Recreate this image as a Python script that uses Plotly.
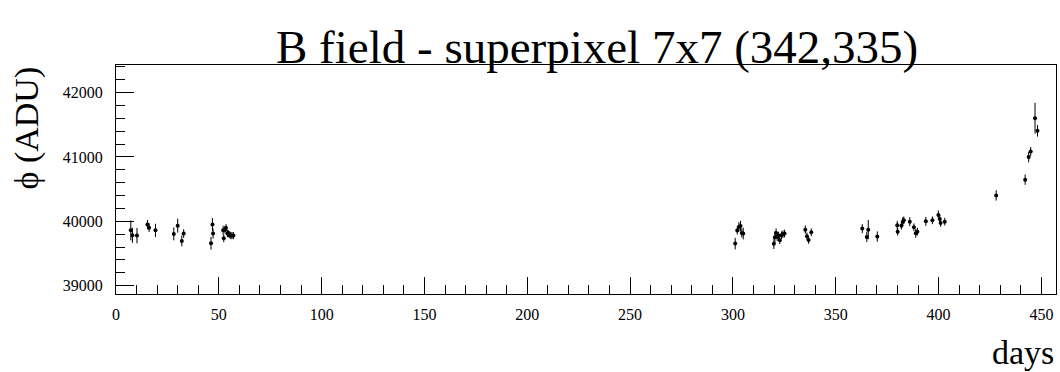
import plotly.graph_objects as go

title_text = "B field - superpixel 7x7 (342,335)"
x_title = "days"
y_title = "ϕ (ADU)"

days = [7.2, 8.0, 10.2, 15.3, 16.1, 19.2, 28.1, 30.0, 32.0, 32.9, 46.2, 46.9, 47.2,
        52.1, 52.4, 53.0, 53.5, 54.2, 54.7, 55.3, 55.8, 56.4, 57.1,
        301.1, 302.1, 302.9, 303.7, 304.3, 305.0,
        319.9, 320.4, 321.0, 321.5, 322.2, 322.8, 323.6, 324.3, 325.1,
        335.2, 336.0, 336.8, 338.1,
        362.9, 365.1, 365.8, 370.2,
        379.9, 380.1, 381.9, 382.6, 383.1,
        386.0, 388.0, 388.9, 389.7,
        393.8, 397.0, 399.9, 400.6, 401.0, 403.0,
        428.0, 442.1, 443.8, 444.8, 446.9, 448.1]

phi = [39860, 39783, 39778, 39949, 39902, 39860, 39805, 39933, 39696, 39810, 39659, 39949, 39810,
       39860, 39736, 39871, 39897, 39810, 39805, 39794, 39778, 39778, 39778,
       39654, 39856, 39913, 39929, 39820, 39810,
       39650, 39752, 39820, 39758, 39778, 39705, 39783, 39800, 39810,
       39871, 39767, 39711, 39829,
       39887, 39758, 39871, 39763,
       39938, 39840, 39933, 39995, 40015,
       39995, 39907, 39814, 39840,
       40000, 40016, 40099, 40037, 39975, 39995,
       40403, 40647, 40998, 41085, 41603, 41406]

phi_err = [155, 116, 120, 72, 67, 103, 100, 108, 85, 67, 98, 103, 78,
           70, 60, 60, 60, 55, 55, 55, 55, 55, 55,
           90, 60, 75, 80, 70, 90,
           80, 90, 70, 60, 60, 60, 60, 60, 60,
           65, 60, 60, 60,
           70, 80, 150, 80,
           70, 60, 60, 70, 60,
           70, 60, 70, 60,
           70, 60, 70, 60, 60, 60,
           80, 80, 80, 70, 240, 90]

assert len(days) == len(phi) == len(phi_err)

FONT = "Liberation Serif, Times New Roman, serif"

fig = go.Figure()
fig.add_trace(go.Scatter(
    x=days, y=phi, mode="markers",
    marker=dict(color="black", size=4, symbol="circle"),
    error_y=dict(type="data", array=phi_err, visible=True, color="black",
                 thickness=1, width=0),
    showlegend=False,
))

W, H = 1060, 372
L, R, T, B = 116, 1056, 65, 294


def px(xs):
    return (xs - L) / (R - L)


def py(ys):
    return (B - ys) / (B - T)


fig.update_layout(
    width=W, height=H,
    margin=dict(l=L, r=W - R, t=T, b=H - B, pad=0),
    paper_bgcolor="white", plot_bgcolor="white",
    font=dict(family=FONT, color="black", size=16),
    xaxis=dict(range=[0, 457.1], showgrid=False, zeroline=False,
               showline=True, linecolor="black", linewidth=1, mirror=True,
               ticks="inside", ticklen=17, tickcolor="black", tickwidth=1,
               dtick=50, tick0=0, tickfont=dict(family=FONT, size=16),
               minor=dict(dtick=10, ticks="inside", ticklen=9, tickcolor="black", tickwidth=1),
               ticklabelstandoff=6),
    yaxis=dict(range=[38871, 42429], showgrid=False, zeroline=False,
               showline=True, linecolor="black", linewidth=1, mirror=True,
               ticks="inside", ticklen=18, tickcolor="black", tickwidth=1,
               dtick=1000, tick0=39000, tickfont=dict(family=FONT, size=16),
               minor=dict(dtick=200, ticks="inside", ticklen=9, tickcolor="black", tickwidth=1),
               ticklabelstandoff=9, tickformat="d"),
    annotations=[
        dict(text=title_text, xref="paper", yref="paper",
             x=px(597), y=py(47),
             xanchor="center", yanchor="middle", showarrow=False,
             font=dict(family=FONT, size=47, color="black")),
        dict(text=x_title, xref="paper", yref="paper",
             x=1.0, y=py(352),
             xanchor="right", yanchor="middle", showarrow=False,
             font=dict(family=FONT, size=34, color="black")),
        dict(text=y_title, xref="paper", yref="paper",
             x=px(26), y=1.0,
             xanchor="center", yanchor="top", textangle=-90, showarrow=False,
             font=dict(family=FONT, size=34, color="black")),
    ],
)

fig.write_html("out.html", config={"displayModeBar": False},
               post_script="document.body.style.margin='0';")
